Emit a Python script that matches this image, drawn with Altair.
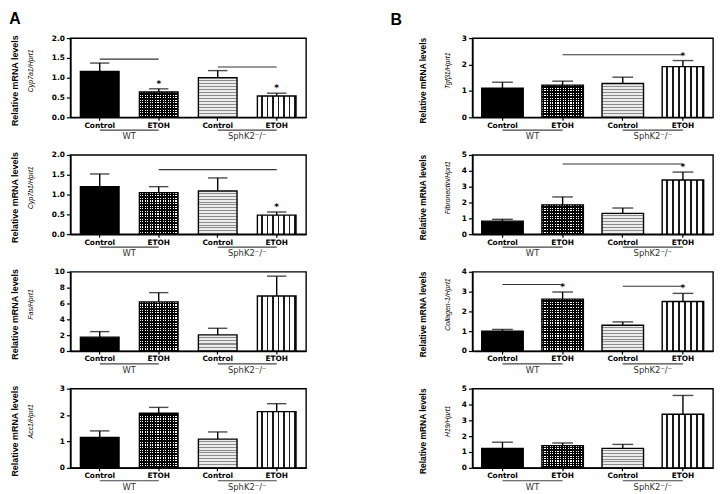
import altair as alt
import pandas as pd

# ---------------- data ----------------
categories = ["WT|Control", "WT|ETOH", "SphK2|Control", "SphK2|ETOH"]
group_labels = ["WT", "SphK2\u207b/\u207b"]

genes = ["Cyp7a1/Hprt1", "Cyp7b1/Hprt1", "Fas/Hprt1", "Acc1/Hprt1",
         "Tgf\u03b21/Hprt1", "Fibronectin/Hprt1", "Collagen-1/Hprt1", "H19/Hprt1"]
ymax = [2, 2, 10, 3, 3, 5, 4, 5]
yticks = [[0, 0.5, 1.0, 1.5, 2.0], [0, 0.5, 1.0, 1.5, 2.0], [0, 2, 4, 6, 8, 10], [0, 1, 2, 3],
          [0, 1, 2, 3], [0, 1, 2, 3, 4, 5], [0, 1, 2, 3, 4], [0, 1, 2, 3, 4, 5]]
yfmt = [".1f", ".1f", "d", "d", "d", "d", "d", "d"]

means = [
    [1.16, 0.64, 1.00, 0.54],
    [1.20, 1.05, 1.09, 0.48],
    [1.75, 6.20, 2.04, 6.95],
    [1.15, 2.07, 1.09, 2.13],
    [1.10, 1.22, 1.28, 1.92],
    [0.82, 1.85, 1.31, 3.42],
    [1.00, 2.62, 1.30, 2.50],
    [1.23, 1.40, 1.23, 3.38],
]
err_tops = [
    [1.37, 0.72, 1.18, 0.61],
    [1.52, 1.20, 1.42, 0.56],
    [2.45, 7.37, 2.87, 9.45],
    [1.40, 2.29, 1.36, 2.43],
    [1.33, 1.37, 1.52, 2.15],
    [0.94, 2.35, 1.65, 3.92],
    [1.09, 2.98, 1.47, 2.91],
    [1.62, 1.57, 1.48, 4.57],
]
stars = [
    [0, 1, 0, 1],
    [0, 0, 0, 1],
    [0, 0, 0, 0],
    [0, 0, 0, 0],
    [0, 0, 0, 1],
    [0, 0, 0, 1],
    [0, 1, 0, 1],
    [0, 0, 0, 0],
]
# significance lines: (from category index, to category index, level)
sig_lines = [
    [(0, 1, 1.47), (2, 3, 1.27)],
    [(1, 3, 1.63)],
    [],
    [],
    [(1, 3, 2.37)],
    [(1, 3, 4.43)],
    [(0, 1, 3.36), (2, 3, 3.27)],
    [],
]
panel_letters = {0: "A", 4: "B"}

FONT = "Liberation Sans, Arial, sans-serif"


def stripes(n, on, off, frac_on, vertical_lines):
    n = max(1, int(n))
    stops = []
    for i in range(n):
        a = i / n
        b = (i + 1 - frac_on) / n
        c = (i + 1) / n
        stops += [{"offset": a, "color": off}, {"offset": b, "color": off},
                  {"offset": b, "color": on}, {"offset": c, "color": on}]
    return {"gradient": "linear", "x1": 0, "y1": 0,
            "x2": 1 if vertical_lines else 0, "y2": 0 if vertical_lines else 1,
            "stops": stops}


def panel(i, col):
    W = 238 if col == 0 else 243
    H = 80
    pi_, po_ = (0.345, 0.17) if col == 0 else (0.31, 0.155)
    step = W / (4 - pi_ + 2 * po_)
    bw = step * (1 - pi_)

    xscale = alt.Scale(domain=categories, paddingInner=pi_, paddingOuter=po_)
    yscale = alt.Scale(domain=[0, ymax[i]], nice=False, zero=True)
    xaxis = alt.Axis(title=None, labelExpr="split(datum.label, '|')[1]", labelAngle=0,
                     labelFont="DejaVu Sans", labelFontWeight="bold", labelFontSize=7.5,
                     labelColor="black", labelPadding=1, tickSize=3, tickColor="black",
                     tickWidth=1.2, domainColor="black", domainWidth=1.5, grid=False)
    yaxis = alt.Axis(title=None, values=yticks[i], format=yfmt[i], labelFont="DejaVu Sans",
                     labelFontWeight="bold", labelFontSize=7.5, labelColor="black",
                     tickSize=4, tickColor="black", tickWidth=1.2, domainColor="black",
                     domainWidth=1.5, grid=False, labelPadding=2)

    df = pd.DataFrame({"cat": categories, "mean": means[i], "err": err_tops[i],
                       "star": stars[i]})
    X = alt.X("cat:N", scale=xscale, axis=xaxis, sort=categories)
    Y = alt.Y("mean:Q", scale=yscale, axis=yaxis)
    Ye = alt.Y("err:Q", scale=yscale, axis=yaxis)
    base = alt.Chart(df)

    hpx = [m / ymax[i] * H for m in means[i]]
    fills = [
        "black",
        stripes(round(hpx[1] / 2.6), "black", "white", 0.55, False),
        stripes(round(hpx[2] / 3), "#8c8c8c", "#ececec", 0.35, False),
        stripes(7, "#1a1a1a", "white", 0.28, True),
    ]
    layers = []
    for k in range(4):
        layers.append(base.transform_filter(alt.datum.cat == categories[k])
                      .mark_bar(fill=fills[k], strokeWidth=0).encode(x=X, y=Y))
    layers.append(base.transform_filter(alt.datum.cat == categories[1])
                  .mark_bar(fill=stripes(round(bw / 2.6), "black", "transparent", 0.55, True),
                            strokeWidth=0)
                  .encode(x=X, y=Y))
    layers.append(base.mark_bar(fill="white", fillOpacity=0, stroke="black", strokeWidth=1.4)
                  .encode(x=X, y=Y))
    layers.append(base.mark_rule(color="black", strokeWidth=1.4)
                  .encode(x=X, y=Y, y2="err:Q"))
    layers.append(base.mark_tick(orient="horizontal", size=bw * 0.5, thickness=1.4, color="black")
                  .encode(x=X, y=Ye))
    if any(stars[i]):
        layers.append(base.transform_filter(alt.datum.star == 1)
                      .mark_text(text="*", fontSize=9, fontWeight="bold", dy=-5,
                                 font="DejaVu Sans", color="black")
                      .encode(x=X, y=Ye))
    if sig_lines[i]:
        sdf = pd.DataFrame({"a": [categories[s[0]] for s in sig_lines[i]],
                            "b": [categories[s[1]] for s in sig_lines[i]],
                            "v": [s[2] for s in sig_lines[i]]})
        layers.append(alt.Chart(sdf).mark_rule(color="#333", strokeWidth=1.2)
                      .encode(x=alt.X("a:N", scale=xscale, axis=xaxis), x2="b:N",
                              y=alt.Y("v:Q", scale=yscale, axis=yaxis)))
    gdf = pd.DataFrame({"a": [categories[0], categories[2]],
                        "b": [categories[1], categories[3]],
                        "g": group_labels})
    layers.append(alt.Chart(gdf).mark_rule(color="#444", strokeWidth=1.2)
                  .encode(x=alt.X("a:N", scale=xscale, axis=xaxis), x2="b:N",
                          y=alt.value(H + 13)))
    layers.append(alt.Chart(gdf).mark_text(font="DejaVu Sans", fontSize=8.5, color="#333",
                                           dx=(step - bw) / 2, baseline="middle")
                  .encode(x=alt.X("a:N", scale=xscale, axis=xaxis, bandPosition=1),
                          y=alt.value(H + 19), text="g:N"))
    tdf = pd.DataFrame({"t": ["Relative mRNA levels"], "g": [genes[i]]})
    layers.append(alt.Chart(tdf).mark_text(angle=270, font=FONT, fontWeight="bold",
                                           fontSize=9 if col == 0 else 8.5,
                                           baseline="middle", color="black")
                  .encode(x=alt.value(-56 if col == 0 else -50), y=alt.value(H / 2 + 3),
                          text="t:N"))
    layers.append(alt.Chart(tdf).mark_text(angle=270, font=FONT, fontStyle="italic",
                                           fontSize=7, baseline="middle", color="black")
                  .encode(x=alt.value(-40 if col == 0 else -25), y=alt.value(H / 2 - 7),
                          text="g:N"))
    if i in panel_letters:
        ldf = pd.DataFrame({"t": [panel_letters[i]]})
        layers.append(alt.Chart(ldf).mark_text(font=FONT, fontWeight="bold",
                                               fontSize=16, baseline="middle", color="black")
                      .encode(x=alt.value(-56 if col == 0 else -77),
                              y=alt.value(-19 if col == 0 else -18), text="t:N"))
    return alt.layer(*layers).properties(width=W, height=H)


order = [0, 4, 1, 5, 2, 6, 3, 7]
panels = [panel(i, 0 if i < 4 else 1) for i in order]

chart = alt.concat(*panels, columns=2, spacing={"row": 38, "column": 168},
                   bounds="flush", align="each").properties(
    padding=0, background="white").configure_view(stroke="black", strokeWidth=1.4)

chart.save("out.html", embed_options={"renderer": "svg", "actions": False})
